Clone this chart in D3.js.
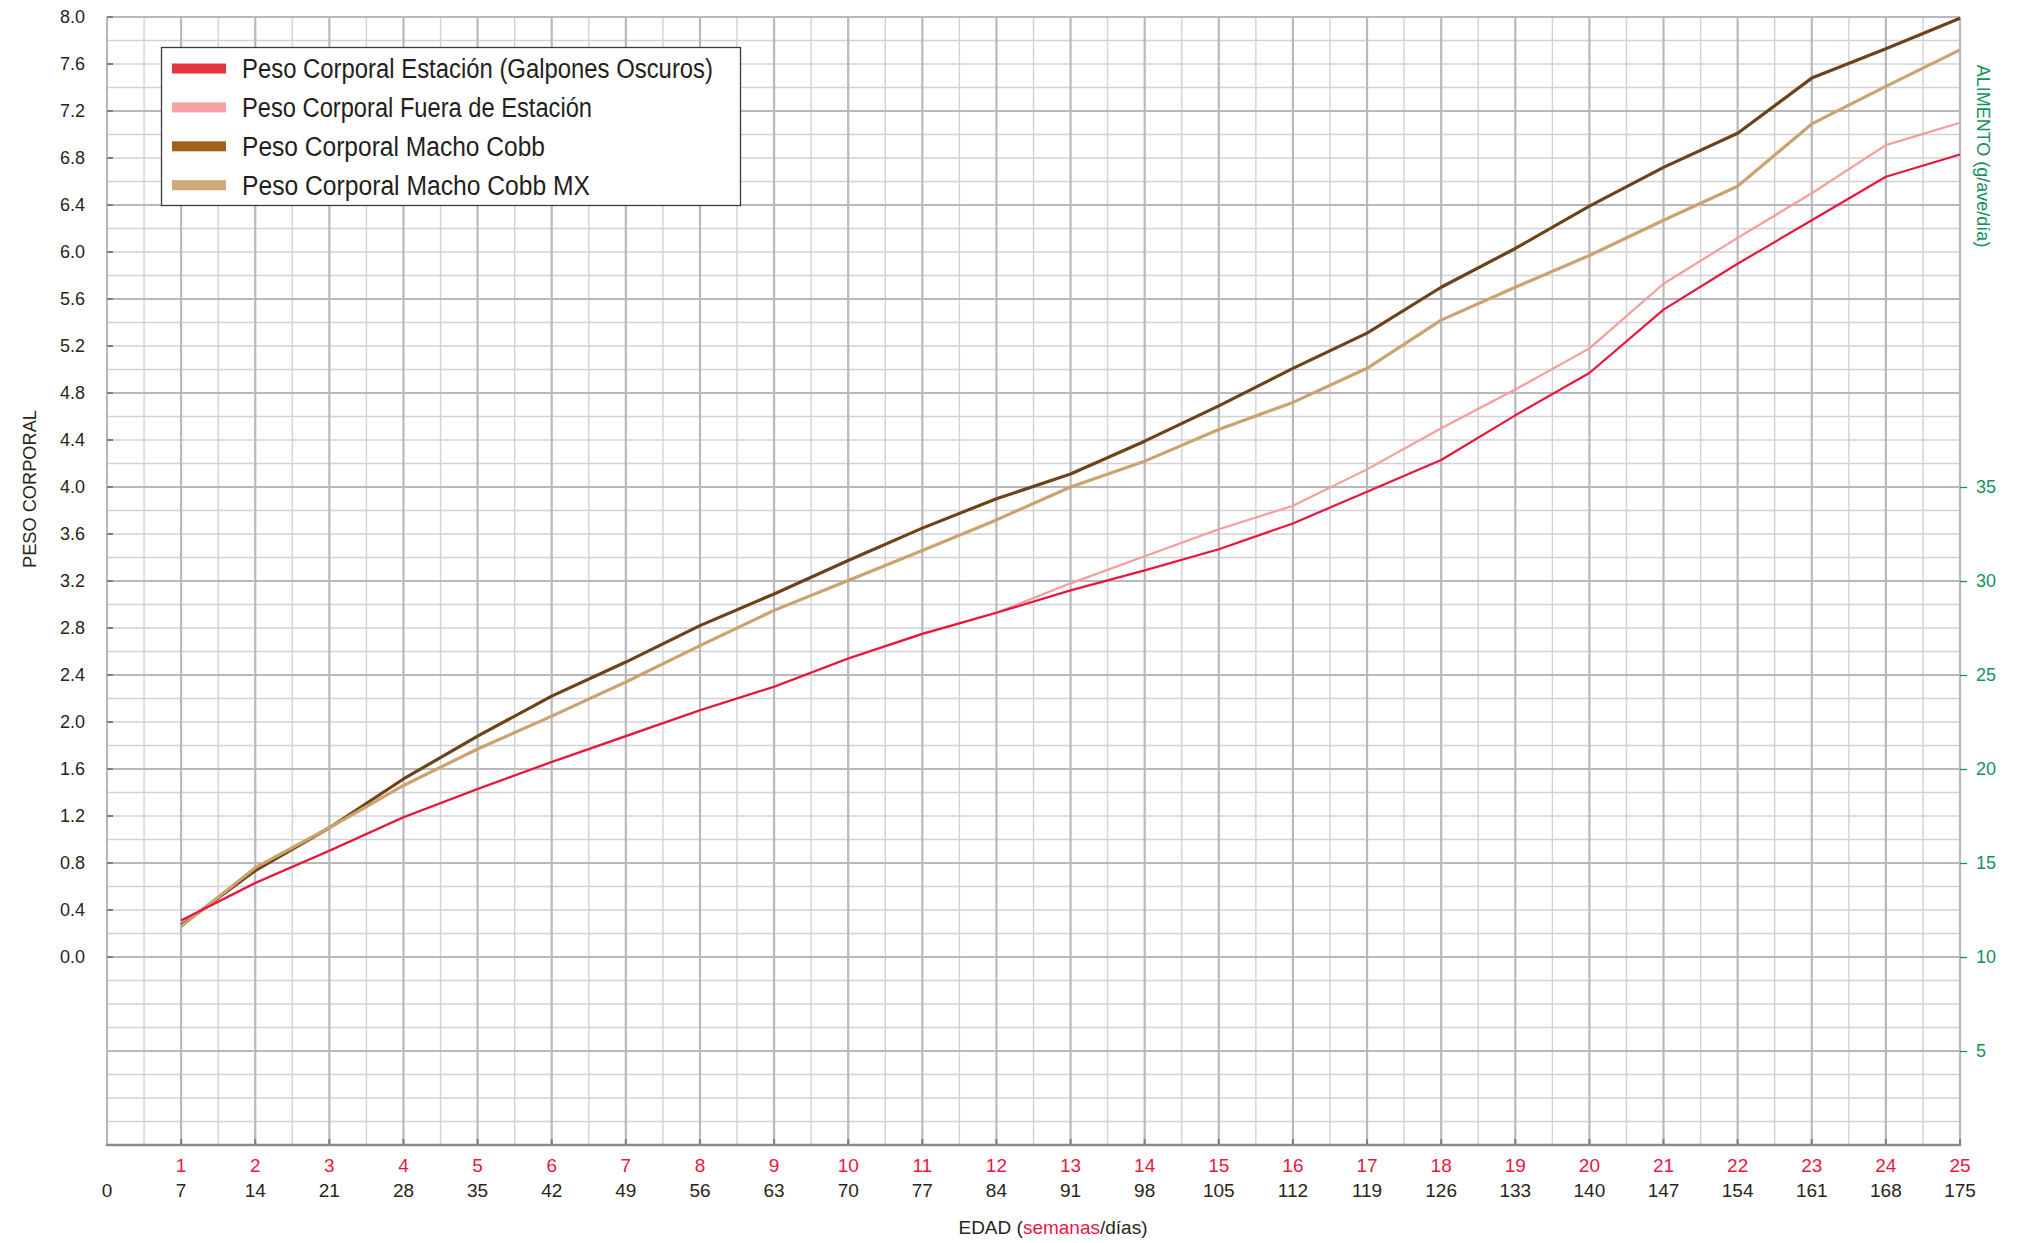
<!DOCTYPE html>
<html>
<head>
<meta charset="utf-8">
<script src="https://cdn.jsdelivr.net/npm/d3@7"></script>
<style>
  html, body { margin: 0; padding: 0; background: #ffffff; }
  svg { display: block; font-family: "Liberation Sans", Arial, sans-serif; }
</style>
</head>
<body>
<svg id="chart" width="2027" height="1243"></svg>
<script>
// ---------- DATA ----------
const weeks = [1,2,3,4,5,6,7,8,9,10,11,12,13,14,15,16,17,18,19,20,21,22,23,24,25];
const days  = [7,14,21,28,35,42,49,56,63,70,77,84,91,98,105,112,119,126,133,140,147,154,161,168,175];

const seriesNames = [
  "Peso Corporal Estación (Galpones Oscuros)",
  "Peso Corporal Fuera de Estación",
  "Peso Corporal Macho Cobb",
  "Peso Corporal Macho Cobb MX"
];
const bwEstacion = [0.31,0.63,0.905,1.19,1.43,1.66,1.88,2.10,2.30,2.54,2.75,2.93,3.12,3.29,3.47,3.69,3.96,4.23,4.61,4.97,5.51,5.90,6.27,6.64,6.83];
const bwFuera    = [0.31,0.63,0.905,1.19,1.43,1.66,1.88,2.10,2.30,2.54,2.75,2.93,3.18,3.41,3.64,3.84,4.15,4.50,4.83,5.18,5.73,6.12,6.50,6.91,7.10];
const bwMacho    = [0.27,0.735,1.10,1.515,1.88,2.22,2.51,2.82,3.09,3.375,3.65,3.90,4.11,4.39,4.69,5.01,5.31,5.70,6.03,6.39,6.72,7.01,7.48,7.73,7.99];
const bwMachoMX  = [0.26,0.76,1.10,1.46,1.77,2.05,2.34,2.65,2.95,3.205,3.46,3.72,4.00,4.22,4.49,4.72,5.01,5.42,5.70,5.97,6.27,6.56,7.09,7.41,7.72];

const yTickLabels = ["0.0","0.4","0.8","1.2","1.6","2.0","2.4","2.8","3.2","3.6","4.0","4.4","4.8","5.2","5.6","6.0","6.4","6.8","7.2","7.6","8.0"];
const rightTickLabels = [5,10,15,20,25,30,35];
const dayTickLabels = [0,7,14,21,28,35,42,49,56,63,70,77,84,91,98,105,112,119,126,133,140,147,154,161,168,175];

// ---------- LAYOUT ----------
const svg = d3.select("#chart");
const pLeft = 107, pRight = 1960, pTop = 17, pBottom = 1145;

const x = d3.scaleLinear().domain([0, 175]).range([pLeft, pRight]);
const y = d3.scaleLinear().domain([-1.6, 8.0]).range([pBottom, pTop]);
const yR = d3.scaleLinear().domain([0, 60]).range([pBottom, pTop]);

const textDark = "#2a2419";
const red = "#e8173f";
const green = "#14915b";

// ---------- GRID ----------
const grid = svg.append("g");
const hVals = d3.range(0, 49).map(i => ({v: -1.6 + i * 0.2, major: i % 4 === 0}));
const vVals = d3.range(0, 51).map(i => ({d: i * 3.5, major: i % 2 === 0}));
grid.selectAll("line.h").data(hVals.filter(d => !d.major)).join("line")
  .attr("x1", pLeft).attr("x2", pRight)
  .attr("y1", d => y(d.v)).attr("y2", d => y(d.v))
  .attr("stroke", "#d2d2d6").attr("stroke-width", 1.4);
grid.selectAll("line.vm").data(vVals.filter(d => !d.major)).join("line")
  .attr("y1", pTop).attr("y2", pBottom)
  .attr("x1", d => x(d.d)).attr("x2", d => x(d.d))
  .attr("stroke", "#d2d2d6").attr("stroke-width", 1.4);
grid.selectAll("line.hM").data(hVals.filter(d => d.major)).join("line")
  .attr("x1", pLeft).attr("x2", pRight)
  .attr("y1", d => y(d.v)).attr("y2", d => y(d.v))
  .attr("stroke", "#b9b9bd").attr("stroke-width", 2.2);
grid.selectAll("line.vM").data(vVals.filter(d => d.major)).join("line")
  .attr("y1", pTop).attr("y2", pBottom)
  .attr("x1", d => x(d.d)).attr("x2", d => x(d.d))
  .attr("stroke", "#b9b9bd").attr("stroke-width", 2.2);

svg.append("line").attr("x1", pLeft - 1).attr("x2", pRight + 1)
  .attr("y1", pBottom).attr("y2", pBottom)
  .attr("stroke", "#8c8c90").attr("stroke-width", 2.6);

// ---------- LEFT AXIS ----------
const yAxis = d3.axisLeft(y)
  .tickValues(yTickLabels.map(Number))
  .tickFormat((d, i) => yTickLabels[i])
  .tickSize(0).tickPadding(22);
const gy = svg.append("g").attr("transform", `translate(${pLeft},0)`).call(yAxis);
gy.select(".domain").remove();
gy.selectAll("text").attr("font-size", 18).attr("fill", textDark)
  .attr("font-family", "'Liberation Sans', Arial, sans-serif");
svg.append("g").selectAll("line").data(yTickLabels.map(Number)).join("line")
  .attr("x1", pLeft).attr("x2", pLeft + 6)
  .attr("y1", d => y(d)).attr("y2", d => y(d))
  .attr("stroke", "#7d7d82").attr("stroke-width", 2);

// ---------- RIGHT AXIS ----------
const yRAxis = d3.axisRight(yR).tickValues(rightTickLabels).tickSize(7).tickPadding(9);
const gr = svg.append("g").attr("transform", `translate(${pRight},0)`).call(yRAxis);
gr.select(".domain").remove();
gr.selectAll("line").attr("stroke", green).attr("stroke-width", 1.3);
gr.selectAll("text").attr("font-size", 18).attr("fill", green)
  .attr("font-family", "'Liberation Sans', Arial, sans-serif");

// ---------- BOTTOM AXIS ----------
svg.append("g").selectAll("line").data(days).join("line")
  .attr("x1", d => x(d)).attr("x2", d => x(d))
  .attr("y1", pBottom).attr("y2", pBottom - 6)
  .attr("stroke", "#7d7d82").attr("stroke-width", 2);

svg.append("g").selectAll("text").data(weeks).join("text")
  .attr("x", (d, i) => x(days[i])).attr("y", 1172)
  .attr("text-anchor", "middle").attr("font-size", 19).attr("fill", red)
  .text(d => d);
svg.append("g").selectAll("text").data(dayTickLabels).join("text")
  .attr("x", d => x(d)).attr("y", 1197)
  .attr("text-anchor", "middle").attr("font-size", 19).attr("fill", textDark)
  .text(d => d);

// ---------- AXIS TITLES ----------
const xt = svg.append("text").attr("x", 1053).attr("y", 1234)
  .attr("text-anchor", "middle").attr("font-size", 19).attr("fill", textDark);
xt.append("tspan").text("EDAD (");
xt.append("tspan").attr("fill", red).text("semanas");
xt.append("tspan").text("/días)");

svg.append("text")
  .attr("transform", "translate(36,489) rotate(-90)")
  .attr("text-anchor", "middle").attr("font-size", 18).attr("fill", textDark)
  .attr("textLength", 158).attr("lengthAdjust", "spacingAndGlyphs")
  .text("PESO CORPORAL");

svg.append("text")
  .attr("transform", "translate(1977,156) rotate(90)")
  .attr("text-anchor", "middle").attr("font-size", 18).attr("fill", green)
  .text("ALIMENTO (g/ave/día)");

// ---------- LINES ----------
const lineGen = d3.line().x((d, i) => x(days[i])).y(d => y(d));
const lines = [
  {vals: bwMacho,   color: "#6e4218", w: 3.2},
  {vals: bwMachoMX, color: "#caa36f", w: 3.2},
  {vals: bwFuera,   color: "#f59c9c", w: 2.2},
  {vals: bwEstacion,color: "#e8163c", w: 2.2}
];
svg.append("g").selectAll("path").data(lines).join("path")
  .attr("d", d => lineGen(d.vals))
  .attr("fill", "none").attr("stroke", d => d.color).attr("stroke-width", d => d.w)
  .attr("stroke-linejoin", "round");

// ---------- LEGEND ----------
const legendColors = ["#e63541", "#f5a3a3", "#9e6419", "#d0a976"];
const legendLengths = [471, 350, 303, 348];
const lg = svg.append("g");
lg.append("rect").attr("x", 161.5).attr("y", 47.5).attr("width", 579).attr("height", 158)
  .attr("fill", "#ffffff").attr("stroke", "#3b3b3b").attr("stroke-width", 1.3);
const rows = lg.selectAll("g.row").data(seriesNames).join("g")
  .attr("transform", (d, i) => `translate(0,${68.5 + i * 38.9})`);
rows.append("rect").attr("x", 172).attr("y", -5).attr("width", 54).attr("height", 10)
  .attr("fill", (d, i) => legendColors[i]);
rows.append("text").attr("x", 242).attr("y", 9.5)
  .attr("font-size", 27).attr("fill", "#231f20")
  .attr("textLength", (d, i) => legendLengths[i]).attr("lengthAdjust", "spacingAndGlyphs")
  .text(d => d);
</script>
</body>
</html>
